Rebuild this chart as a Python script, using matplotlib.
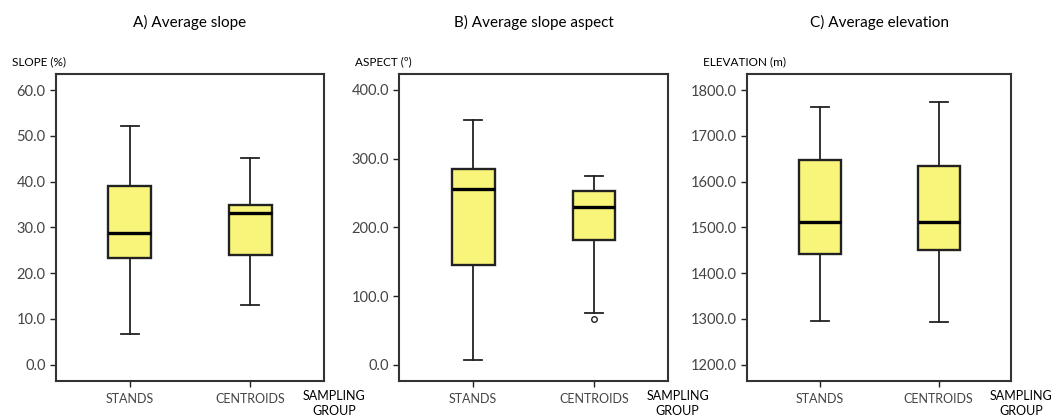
import matplotlib
matplotlib.use("Agg")
import matplotlib.pyplot as plt

plt.rcParams['font.family'] = ['Lato', 'DejaVu Sans']

groups = ["STANDS", "CENTROIDS"]

# five-number summaries: low whisker, Q1, median, Q3, high whisker
slope_stands = [6.8, 23.2, 28.7, 39.1, 52.2]
slope_centroids = [13.0, 24.0, 33.2, 34.9, 45.2]
aspect_stands = [7.3, 144.7, 256.0, 284.4, 355.5]
aspect_centroids = [75.0, 182.0, 229.3, 253.0, 274.3]
aspect_centroids_outliers = [67.3]
elev_stands = [1296.4, 1441.5, 1511.3, 1647.3, 1762.9]
elev_centroids = [1292.7, 1450.9, 1512.7, 1634.2, 1773.8]

titles = ["A) Average slope", "B) Average slope aspect", "C) Average elevation"]
ylabels = ["SLOPE (%)", "ASPECT (º)", "ELEVATION (m)"]
yticks = [[0, 10, 20, 30, 40, 50, 60],
          [0, 100, 200, 300, 400],
          [1200, 1300, 1400, 1500, 1600, 1700, 1800]]
ylims = [(-3.5, 63.5), (-23, 423), (1165, 1835)]

panels = [
    [(slope_stands, []), (slope_centroids, [])],
    [(aspect_stands, []), (aspect_centroids, aspect_centroids_outliers)],
    [(elev_stands, []), (elev_centroids, [])],
]

# axes boxes in figure fraction (left, bottom, width, height)
rects = [(0.0532, 0.0827, 0.2548, 0.739),
         (0.3796, 0.0827, 0.2551, 0.739),
         (0.7104, 0.0827, 0.2507, 0.739)]


def make_stats(summary, fliers, label):
    lo, q1, med, q3, hi = summary
    return {"whislo": lo, "q1": q1, "med": med, "q3": q3, "whishi": hi,
            "fliers": fliers, "label": label}


fig = plt.figure(figsize=(10.52, 4.15), dpi=100)
edge = "#222222"
tick_col = "#444444"

for k in range(3):
    ax = fig.add_axes(rects[k])
    stats = [make_stats(s, f, g) for (s, f), g in zip(panels[k], groups)]
    ax.bxp(stats, positions=[1, 2], widths=0.355, patch_artist=True,
           showfliers=True,
           boxprops=dict(facecolor="#f9f57a", edgecolor=edge, linewidth=1.7),
           medianprops=dict(color="black", linewidth=2.4),
           whiskerprops=dict(color=edge, linewidth=1.3),
           capprops=dict(color=edge, linewidth=1.3),
           capwidths=0.15,
           flierprops=dict(marker="o", markersize=4, markerfacecolor="white",
                           markeredgecolor=edge, markeredgewidth=1.0))
    ax.set_xlim(0.39, 2.61)
    ax.set_ylim(*ylims[k])
    ax.set_yticks(yticks[k])
    ax.set_yticklabels(["%.1f" % v for v in yticks[k]])
    ax.set_xticks([1, 2])
    ax.set_xticklabels(groups)
    ax.tick_params(axis="both", direction="out", length=4, width=1.0,
                   color=edge, labelcolor=tick_col, labelsize=10.5)
    ax.tick_params(axis="x", labelsize=9, pad=5)
    for sp in ax.spines.values():
        sp.set_linewidth(1.5)
        sp.set_color("#333333")

    x0, y0, w, h = rects[k]
    fig.text(x0 + w / 2, 1 - 22 / 415, titles[k], ha="center", va="center",
             fontsize=11, color="black")
    fig.text(x0 - 44 / 1052, 1 - 62 / 415, ylabels[k], ha="left",
             va="center", fontsize=8.5, color="black")
    fig.text(x0 + w + 10 / 1052, 1 - 403 / 415, "SAMPLING\nGROUP",
             ha="center", va="center", fontsize=9, color="black",
             linespacing=1.3)

fig.savefig("out.png", dpi=100)
